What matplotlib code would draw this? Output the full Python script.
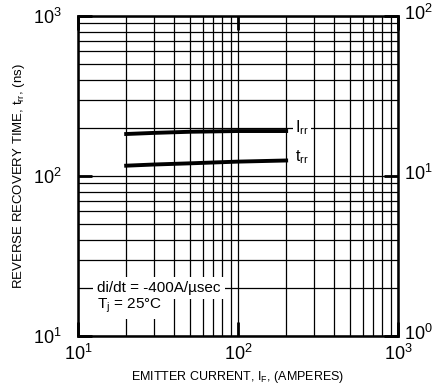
import matplotlib
matplotlib.use("Agg")
import matplotlib.pyplot as plt
from matplotlib.ticker import LogLocator, NullFormatter, FixedLocator
from matplotlib.transforms import ScaledTranslation
import numpy as np

plt.rcParams['font.family'] = ['Liberation Sans', 'DejaVu Sans']
plt.rcParams['mathtext.fontset'] = 'custom'
plt.rcParams['mathtext.rm'] = 'Liberation Sans'
plt.rcParams['mathtext.it'] = 'Liberation Sans'
plt.rcParams['mathtext.default'] = 'regular'

# Data
emitter_current = [20, 30, 50, 100, 200]
trr_ns = [116, 118, 120, 123, 125]
irr_amps = [18.3, 18.6, 18.9, 19.1, 19.1]

x_ticks = [10, 100, 1000]
x_ticklabels = ['$10^{1}$', '$10^{2}$', '$10^{3}$']
y_ticks = [10, 100, 1000]
y_ticklabels = ['$10^{1}$', '$10^{2}$', '$10^{3}$']
y2_ticks = [1, 10, 100]
y2_ticklabels = ['$10^{0}$', '$10^{1}$', '$10^{2}$']

fig = plt.figure(figsize=(4.33, 3.85), dpi=100)
ax = fig.add_axes([78/433, 49/385, 320/433, 320/385])
ax.set_xscale('log')
ax.set_yscale('log')
ax.set_xlim(10, 1000)
ax.set_ylim(10, 1000)

ax.xaxis.set_major_locator(FixedLocator(x_ticks))
ax.yaxis.set_major_locator(FixedLocator(y_ticks))
ax.set_xticklabels(x_ticklabels)
ax.set_yticklabels(y_ticklabels)
ax.xaxis.set_minor_locator(LogLocator(base=10, subs=np.arange(2, 10)))
ax.yaxis.set_minor_locator(LogLocator(base=10, subs=np.arange(2, 10)))
ax.xaxis.set_minor_formatter(NullFormatter())
ax.yaxis.set_minor_formatter(NullFormatter())
ax.grid(True, which='both', color='black', linewidth=0.9)
ax.tick_params(which='minor', length=0)
ax.tick_params(which='major', direction='in', length=10, width=2,
               top=True, labelsize=13)
ax.tick_params(axis='x', pad=6)
ax.tick_params(axis='y', pad=12)
for s in ax.spines.values():
    s.set_linewidth(1.8)

ax.plot(emitter_current, trr_ns, color='black', linewidth=2.8, zorder=3)

ax2 = ax.twinx()
ax2.set_yscale('log')
ax2.set_ylim(1, 100)
ax2.yaxis.set_major_locator(FixedLocator(y2_ticks))
ax2.set_yticklabels(y2_ticklabels)
ax2.yaxis.set_minor_formatter(NullFormatter())
ax2.tick_params(which='minor', length=0)
ax2.tick_params(which='major', direction='in', length=10, width=2,
                labelsize=13, pad=4)
shift = ScaledTranslation(0, 4/100, fig.dpi_scale_trans)
for lbl in ax2.get_yticklabels():
    lbl.set_transform(lbl.get_transform() + shift)
ax2.plot(emitter_current, irr_amps, color='black', linewidth=2.8, zorder=3)

ax.text(227, 200, 'I$_{rr}$', fontsize=11.5, ha='left', va='center',
        bbox=dict(facecolor='white', edgecolor='none', pad=1.5), zorder=4)
ax.text(227, 131, 't$_{rr}$', fontsize=11.5, ha='left', va='center',
        bbox=dict(facecolor='white', edgecolor='none', pad=1.5), zorder=4)
ax.text(13.2, 20.0, 'di/dt = -400A/\u00b5sec', fontsize=11,
        ha='left', va='center',
        bbox=dict(facecolor='white', edgecolor='none', pad=3), zorder=4)
ax.text(13.2, 15.4, 'T$_{j}$ = 25\u00b0C', fontsize=11,
        ha='left', va='center',
        bbox=dict(facecolor='white', edgecolor='none', pad=3), zorder=4)

ax.set_xlabel('EMITTER CURRENT, I$_{F}$, (AMPERES)', fontsize=9, labelpad=3)
ax.set_ylabel('REVERSE RECOVERY TIME, t$_{rr}$, (ns)', fontsize=9.5, labelpad=4)

fig.savefig('out.png', dpi=100)
